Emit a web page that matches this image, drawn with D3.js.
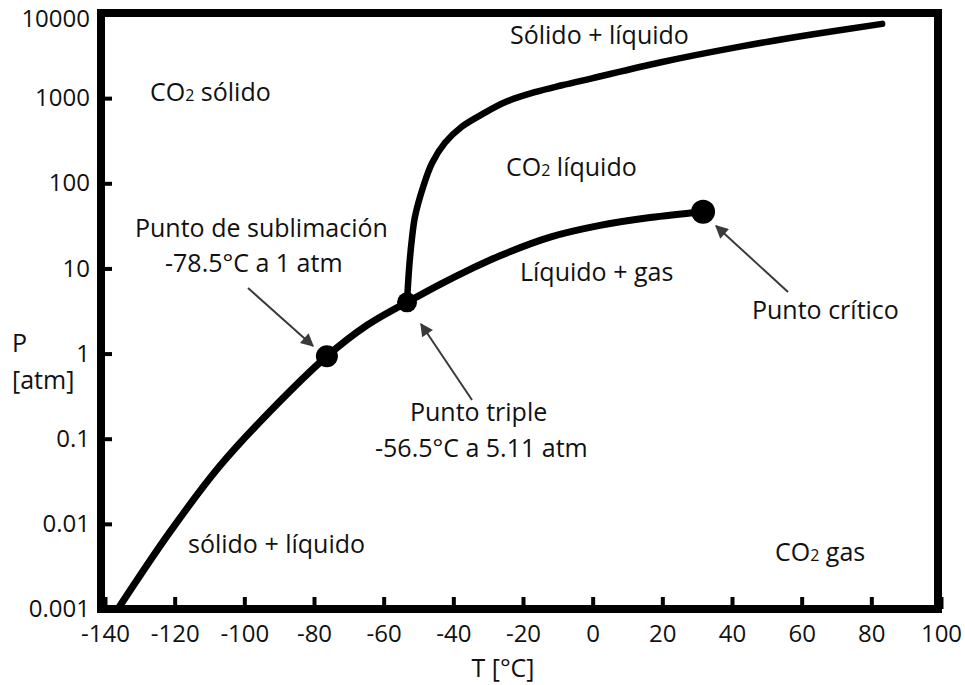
<!DOCTYPE html>
<html>
<head>
<meta charset="utf-8">
<script src="https://cdn.jsdelivr.net/npm/d3@7"></script>
<style>
  body { margin: 0; background: #fff; }
  text { font-family: "Open Sans", sans-serif; fill: #111; }
</style>
</head>
<body>
<div id="chart"></div>
<script>
// ticks
var tempTicks = [-140, -120, -100, -80, -60, -40, -20, 0, 20, 40, 60, 80, 100];
var tempLabels = ["-140", "-120", "-100", "-80", "-60", "-40", "-20", "0", "20", "40", "60", "80", "100"];
var pressTicks = [0.001, 0.01, 0.1, 1, 10, 100, 1000, 10000];
var pressLabels = ["0.001", "0.01", "0.1", "1", "10", "100", "1000", "10000"];

// sublimation curve (solid / gas)
var sublimT = [-136.3, -121.3, -107.0, -92.6, -76.3, -64.8, -53.3];
var sublimP = [0.001, 0.0081, 0.048, 0.21, 0.93, 2.15, 4.0];

// vaporization curve (liquid / gas)
var vapT = [-53.3, -43.8, -35.2, -26.6, -12.2, 2.1, 16.5, 31.7];
var vapP = [4.0, 6.5, 9.75, 14.1, 23.3, 32.0, 39.6, 46.4];

// melting curve (solid / liquid)
var meltT = [-53.3, -52.7, -51.9, -51.0, -48.7, -46.1, -42.4, -37.5, -31.8, -25.2, -16.6, -8.8, -0.2, 19.3, 42.3, 62.4, 83.1];
var meltP = [4.0, 10, 22.1, 40.7, 90, 173, 299, 464, 645, 896, 1174, 1416, 1709, 2622, 4024, 5549, 7447];

// marked points: sublimation, triple, critical
var pointT = [-76.3, -53.3, 31.7];
var pointP = [0.93, 4.0, 46.4];
var pointR = [11, 10, 12];

var width = 965,
  height = 685;

var svg = d3.select("#chart").append("svg")
  .attr("width", width)
  .attr("height", height);

var x = d3.scaleLinear().domain([-140, 100]).range([105, 941]);
var y = d3.scaleLog().domain([0.001, 10000]).range([609, 13]);

var defs = svg.append("defs");
defs.append("marker")
  .attr("id", "arrow")
  .attr("viewBox", "0 0 10 10")
  .attr("refX", 9)
  .attr("refY", 5)
  .attr("markerWidth", 8)
  .attr("markerHeight", 6.5)
  .attr("markerUnits", "strokeWidth")
  .attr("orient", "auto")
  .append("path")
  .attr("d", "M0,0 L10,5 L0,10 z")
  .style("fill", "#3a3a3a");

// axes
var xAxis = svg.append("g")
  .attr("transform", "translate(0,609)")
  .call(d3.axisBottom(x).tickValues(tempTicks).tickFormat(function(d, i) { return tempLabels[i]; })
    .tickSize(-12).tickSizeOuter(0).tickPadding(16));
xAxis.select(".domain").remove();
xAxis.selectAll(".tick line").style("stroke", "#000").style("stroke-width", 4);
xAxis.selectAll(".tick text").style("font-size", "24px").style("font-family", "'Open Sans', sans-serif");

var yAxis = svg.append("g")
  .attr("transform", "translate(101,0)")
  .call(d3.axisLeft(y).tickValues(pressTicks).tickFormat(function(d, i) { return pressLabels[i]; })
    .tickSize(-11).tickSizeOuter(0).tickPadding(11));
yAxis.select(".domain").remove();
yAxis.selectAll(".tick line").style("stroke", "#000").style("stroke-width", 4);
yAxis.selectAll(".tick text").style("font-size", "24px").style("font-family", "'Open Sans', sans-serif");
yAxis.selectAll(".tick text").filter(function(d) { return d === 10000; }).attr("dy", "0.55em");

// frame
svg.append("rect")
  .attr("x", 101)
  .attr("y", 13)
  .attr("width", 837)
  .attr("height", 596)
  .style("fill", "none")
  .style("stroke", "#000")
  .style("stroke-width", 8);

// curves
var line = d3.line()
  .x(function(d) { return x(d[0]); })
  .y(function(d) { return y(d[1]); })
  .curve(d3.curveCatmullRom.alpha(0.5));

function pairs(ts, ps) {
  return ts.map(function(t, i) { return [t, ps[i]]; });
}

svg.append("path")
  .datum(pairs(sublimT, sublimP))
  .attr("d", line)
  .style("fill", "none")
  .style("stroke", "#000")
  .style("stroke-width", 7)
  .style("stroke-linecap", "round");

svg.append("path")
  .datum(pairs(vapT, vapP))
  .attr("d", line)
  .style("fill", "none")
  .style("stroke", "#000")
  .style("stroke-width", 7)
  .style("stroke-linecap", "round");

svg.append("path")
  .datum(pairs(meltT, meltP))
  .attr("d", line)
  .style("fill", "none")
  .style("stroke", "#000")
  .style("stroke-width", 6.5)
  .style("stroke-linecap", "round");

svg.selectAll("circle.pt")
  .data(pairs(pointT, pointP))
  .enter().append("circle")
  .attr("class", "pt")
  .attr("cx", function(d) { return x(d[0]); })
  .attr("cy", function(d) { return y(d[1]); })
  .attr("r", function(d, i) { return pointR[i]; })
  .style("fill", "#000");

// arrows
var arrows = [
  [248, 288, 313, 346],
  [472, 400, 421, 324],
  [788, 292, 716, 226]
];
svg.selectAll("line.arrow")
  .data(arrows)
  .enter().append("line")
  .attr("class", "arrow")
  .attr("x1", function(d) { return d[0]; })
  .attr("y1", function(d) { return d[1]; })
  .attr("x2", function(d) { return d[2]; })
  .attr("y2", function(d) { return d[3]; })
  .style("stroke", "#3a3a3a")
  .style("stroke-width", 2)
  .attr("marker-end", "url(#arrow)");

// labels
function label(parts, px, py, anchor) {
  var t = svg.append("text")
    .attr("x", px)
    .attr("y", py)
    .attr("text-anchor", anchor || "start")
    .style("font-size", "25px");
  parts.forEach(function(p) {
    var s = t.append("tspan").text(p[0]);
    if (p[1]) s.style("font-size", "16px");
  });
  return t;
}

label([["CO"], ["2", true], [" sólido"]], 150, 101);
label([["Sólido + líquido"]], 510, 44);
label([["CO"], ["2", true], [" líquido"]], 506, 176);
label([["Punto de sublimación"]], 135, 237);
label([["-78.5°C a 1 atm"]], 165, 272);
label([["Líquido + gas"]], 520, 281);
label([["Punto crítico"]], 752, 319);
label([["Punto triple"]], 410, 421);
label([["-56.5°C a 5.11 atm"]], 375, 457);
label([["sólido + líquido"]], 188, 553);
label([["CO"], ["2", true], [" gas"]], 775, 561);

label([["P"]], 12, 352);
label([["[atm]"]], 12, 389);
label([["T [°C]"]], 503, 677, "middle");
</script>
</body>
</html>
